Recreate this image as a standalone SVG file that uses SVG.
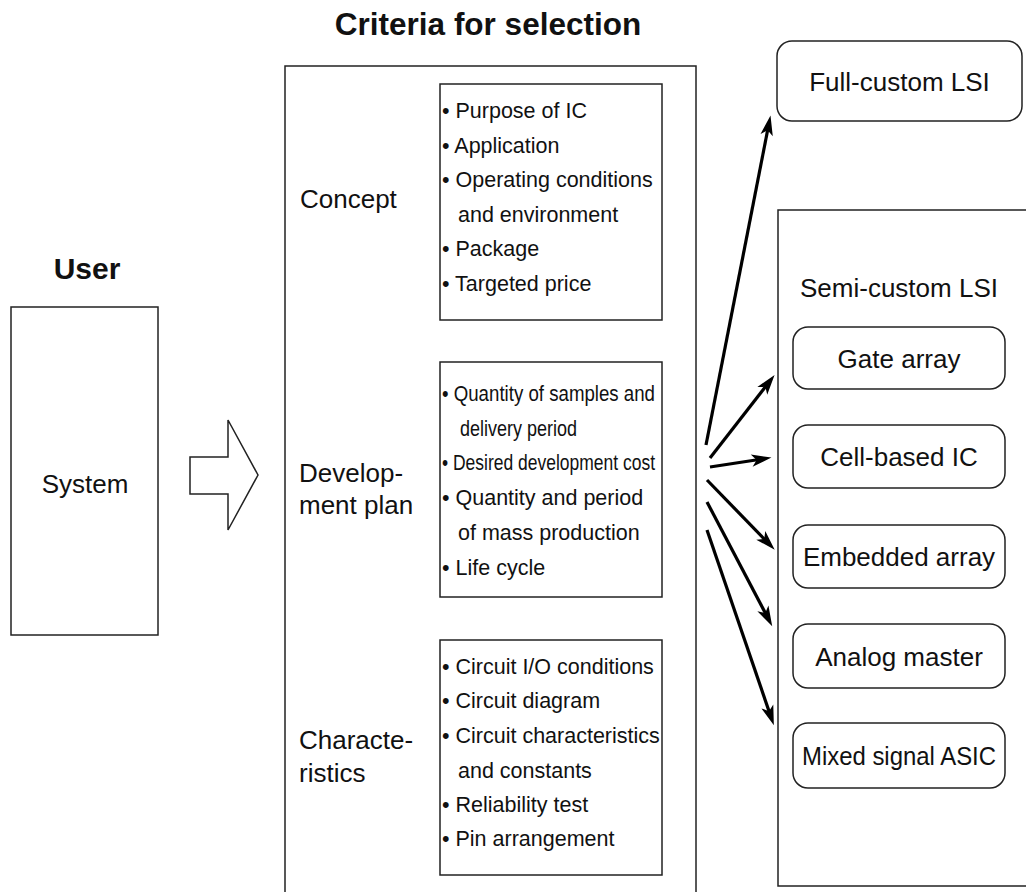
<svg xmlns="http://www.w3.org/2000/svg" width="1026" height="892" viewBox="0 0 1026 892">
<style>
.box{fill:#fff;stroke:#222;stroke-width:1.5}
.t{font-family:"Liberation Sans",Arial,sans-serif;fill:#111}
.lab{font-size:26px}
.b{font-size:21.5px}
.h{font-weight:bold}
.c{text-anchor:middle}
.ar{stroke:#000;stroke-width:3.2;fill:none;marker-end:url(#ah)}
</style>
<defs>
<marker id="ah" markerUnits="userSpaceOnUse" orient="auto" refX="0" refY="0" markerWidth="30" markerHeight="20" viewBox="-8 -8 20 16" overflow="visible">
<path d="M10,0 L-6,-5 L-2,0 L-6,5 z" fill="#000"/>
</marker>
</defs>
<rect width="1026" height="892" fill="#fff"/>
<text class="t h c" x="488" y="35" font-size="31.5">Criteria for selection</text>
<text class="t h c" x="87" y="279" font-size="30">User</text>

<g id="system">
<rect class="box" x="11" y="307" width="147" height="328"/>
<text class="t lab c" x="85" y="493">System</text>
</g>

<g id="flow-arrow">
<polygon class="box" points="190,457 228,457 228,420 258,475 228,530 228,494 190,494"/>
</g>

<g id="criteria">
<rect class="box" x="285" y="66" width="411" height="840"/>
</g>

<g id="concept">
<text class="t lab" x="300" y="208">Concept</text>
<rect class="box" x="440" y="84" width="222" height="236"/>
<text class="t b" x="442" y="118">• Purpose of IC</text>
<text class="t b" x="442" y="153">• Application</text>
<text class="t b" x="442" y="187">• Operating conditions</text>
<text class="t b" x="458" y="222">and environment</text>
<text class="t b" x="442" y="256">• Package</text>
<text class="t b" x="442" y="291">• Targeted price</text>
</g>

<g id="development">
<text class="t lab" x="299" y="482">Develop-</text>
<text class="t lab" x="299" y="514">ment plan</text>
<rect class="box" x="440" y="362" width="222" height="235"/>
<text class="t b" x="442" y="401" textLength="213" lengthAdjust="spacingAndGlyphs">• Quantity of samples and</text>
<text class="t b" x="460" y="436" textLength="117" lengthAdjust="spacingAndGlyphs">delivery period</text>
<text class="t b" x="442" y="470" textLength="213" lengthAdjust="spacingAndGlyphs">• Desired development cost</text>
<text class="t b" x="442" y="505">• Quantity and period</text>
<text class="t b" x="458" y="540">of mass production</text>
<text class="t b" x="442" y="575">• Life cycle</text>
</g>

<g id="characteristics">
<text class="t lab" x="299" y="749">Characte-</text>
<text class="t lab" x="299" y="782">ristics</text>
<rect class="box" x="440" y="640" width="222" height="235"/>
<text class="t b" x="442" y="674">• Circuit I/O conditions</text>
<text class="t b" x="442" y="708">• Circuit diagram</text>
<text class="t b" x="442" y="743">• Circuit characteristics</text>
<text class="t b" x="458" y="778">and constants</text>
<text class="t b" x="442" y="812">• Reliability test</text>
<text class="t b" x="442" y="846">• Pin arrangement</text>
</g>

<g id="full-custom">
<rect class="box" x="777" y="41" width="245" height="80" rx="15"/>
<text class="t lab c" x="899.5" y="90.5">Full-custom LSI</text>
</g>

<g id="semi-custom">
<rect class="box" x="778" y="210" width="260" height="676"/>
<text class="t lab" x="800" y="297" font-size="25">Semi-custom LSI</text>
</g>

<g id="gate-array">
<rect class="box" x="793" y="327" width="212" height="62" rx="15"/>
<text class="t lab c" x="899" y="367.5">Gate array</text>
</g>
<g id="cell-based">
<rect class="box" x="793" y="425" width="212" height="63" rx="15"/>
<text class="t lab c" x="899" y="466">Cell-based IC</text>
</g>
<g id="embedded">
<rect class="box" x="793" y="525" width="212" height="63" rx="15"/>
<text class="t lab c" x="899" y="566">Embedded array</text>
</g>
<g id="analog">
<rect class="box" x="793" y="624" width="212" height="64" rx="15"/>
<text class="t lab c" x="899" y="665.5">Analog master</text>
</g>
<g id="mixed">
<rect class="box" x="793" y="723" width="212" height="65" rx="15"/>
<text class="t lab c" x="899" y="765" textLength="194" lengthAdjust="spacingAndGlyphs">Mixed signal ASIC</text>
</g>

<g id="connectors">
<line class="ar" x1="706" y1="445" x2="768.1" y2="127.8"/>
<line class="ar" x1="710" y1="458" x2="766.9" y2="384.9"/>
<line class="ar" x1="710" y1="467" x2="759.1" y2="459.5"/>
<line class="ar" x1="707" y1="480" x2="766.0" y2="540.8"/>
<line class="ar" x1="707" y1="502" x2="766.4" y2="615.1"/>
<line class="ar" x1="707" y1="530" x2="769.8" y2="713.5"/>
</g>
</svg>
